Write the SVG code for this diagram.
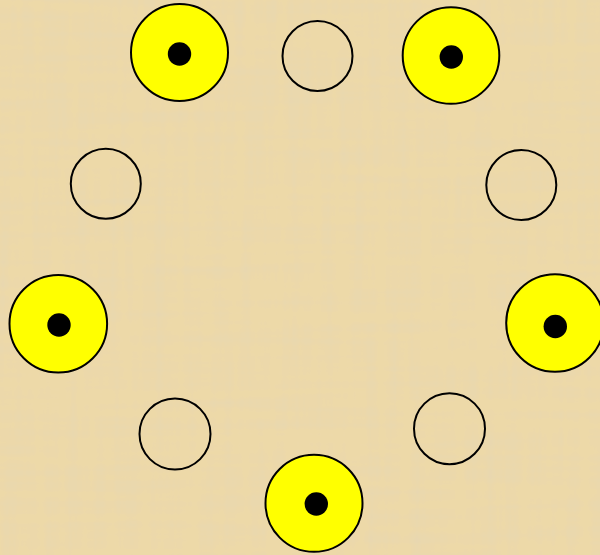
<svg xmlns="http://www.w3.org/2000/svg" width="600" height="555" viewBox="0 0 600 555">
  <defs>
    <style>
      .ring { fill: #FFFF00; stroke: #000; stroke-width: 2; }
      .dot { fill: #000; }
      .empty { fill: none; stroke: #000; stroke-width: 2; }
    </style>
    <filter id="papyrus" x="0" y="0" width="100%" height="100%">
      <feTurbulence type="fractalNoise" baseFrequency="0.09 0.005" numOctaves="3" seed="3" result="v"/>
      <feTurbulence type="fractalNoise" baseFrequency="0.005 0.09" numOctaves="3" seed="7" result="h"/>
      <feComposite in="v" in2="h" operator="arithmetic" k2="0.5" k3="0.5" result="n"/>
      <feColorMatrix in="n" type="matrix" values="0 0 0 0 0.80  0 0 0 0 0.68  0 0 0 0 0.44  0 0 0 2.2 -0.95" result="tex"/>
      <feComposite in="tex" in2="SourceGraphic" operator="over"/>
    </filter>
  </defs>
  <rect id="background" x="0" y="0" width="600" height="555" fill="#EDD9A8" filter="url(#papyrus)"/>
  <g id="connectors"></g>
  <g id="node-top-left"><circle class="ring" cx="179.5" cy="52.5" r="48.5"/><circle class="dot" cx="179.5" cy="54" r="11.7"/></g>
  <g id="node-top"><circle class="empty" cx="317.5" cy="56" r="35"/></g>
  <g id="node-top-right"><circle class="ring" cx="451" cy="55.5" r="48.3"/><circle class="dot" cx="451.3" cy="57" r="11.7"/></g>
  <g id="node-right-upper"><circle class="empty" cx="521.3" cy="185" r="35"/></g>
  <g id="node-right"><circle class="ring" cx="555" cy="323" r="48.8"/><circle class="dot" cx="555.3" cy="326.5" r="11.7"/></g>
  <g id="node-right-lower"><circle class="empty" cx="449.5" cy="428.7" r="35.5"/></g>
  <g id="node-bottom"><circle class="ring" cx="314" cy="503.3" r="48.5"/><circle class="dot" cx="316.3" cy="504" r="11.7"/></g>
  <g id="node-left-lower"><circle class="empty" cx="175" cy="434" r="35.5"/></g>
  <g id="node-left"><circle class="ring" cx="58.3" cy="323.7" r="48.8"/><circle class="dot" cx="59" cy="325" r="11.7"/></g>
  <g id="node-left-upper"><circle class="empty" cx="105.8" cy="183.8" r="35"/></g>
</svg>
